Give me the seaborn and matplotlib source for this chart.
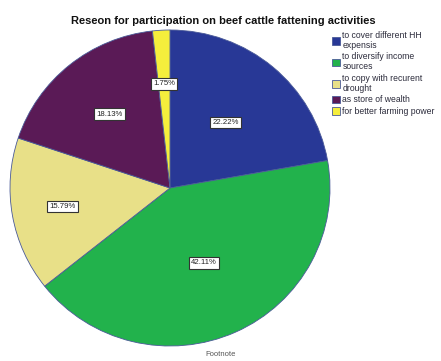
import matplotlib
matplotlib.use("Agg")
import matplotlib.pyplot as plt
import seaborn as sns
import numpy as np

# ---- data ----
categories = [
    "to cover different HH\nexpensis",
    "to diversify income\nsources",
    "to copy with recurent\ndrought",
    "as store of wealth",
    "for better farming power",
]
percent = [22.22, 42.11, 15.79, 18.13, 1.75]
pct_labels = ["22.22%", "42.11%", "15.79%", "18.13%", "1.75%"]
colors = ["#283896", "#22b24c", "#e8e088", "#5a1a56", "#f5ee3c"]
label_radius = [0.54, 0.52, 0.68, 0.60, 0.66]

sns.set_theme(style="white")
plt.rcParams["font.family"] = ["Liberation Sans", "DejaVu Sans"]

W, H = 441, 361
fig = plt.figure(figsize=(W / 100, H / 100), dpi=100)
fig.patch.set_facecolor("white")

# pie axes (pixel box: x 10..330, y 30..346)
ax = fig.add_axes([10 / W, 1 - 346 / H, 320 / W, 316 / H])
wedges, _ = ax.pie(
    percent,
    colors=colors,
    startangle=90,
    counterclock=False,
    radius=1.0,
    wedgeprops=dict(edgecolor="#4a5a98", linewidth=0.6),
)
ax.set_aspect("auto")
ax.set_xlim(-1.0, 1.0)
ax.set_ylim(-1.0, 1.0)
ax.axis("off")

# percentage labels at wedge mid-angles
for w, lab, r in zip(wedges, pct_labels, label_radius):
    mid = np.deg2rad((w.theta1 + w.theta2) / 2)
    ax.text(
        r * np.cos(mid), r * np.sin(mid), lab,
        ha="center", va="center", fontsize=5.6, color="#222222",
        bbox=dict(boxstyle="square,pad=0.3", facecolor="white",
                  edgecolor="#333333", linewidth=0.8),
    )

# title
fig.text(223 / W, 1 - 21 / H,
         "Reseon for participation on beef cattle fattening activities",
         ha="center", va="center", fontsize=8.0, fontweight="bold", color="#111111")

# legend
leg = fig.legend(
    wedges, categories,
    loc="upper left", bbox_to_anchor=(332 / W, 1 - 31 / H),
    frameon=False, fontsize=6.2,
    handlelength=0.95, handleheight=0.95, handletextpad=0.25,
    labelspacing=0.32, borderaxespad=0, borderpad=0,
)
for t in leg.get_texts():
    t.set_color("#2a2a3a")
    t.set_linespacing(1.1)

# footnote
fig.text(221 / W, 1 - 355 / H, "Footnote", ha="center", va="center",
         fontsize=5.5, color="#555555")

fig.savefig("out.png", dpi=100, facecolor="white")
